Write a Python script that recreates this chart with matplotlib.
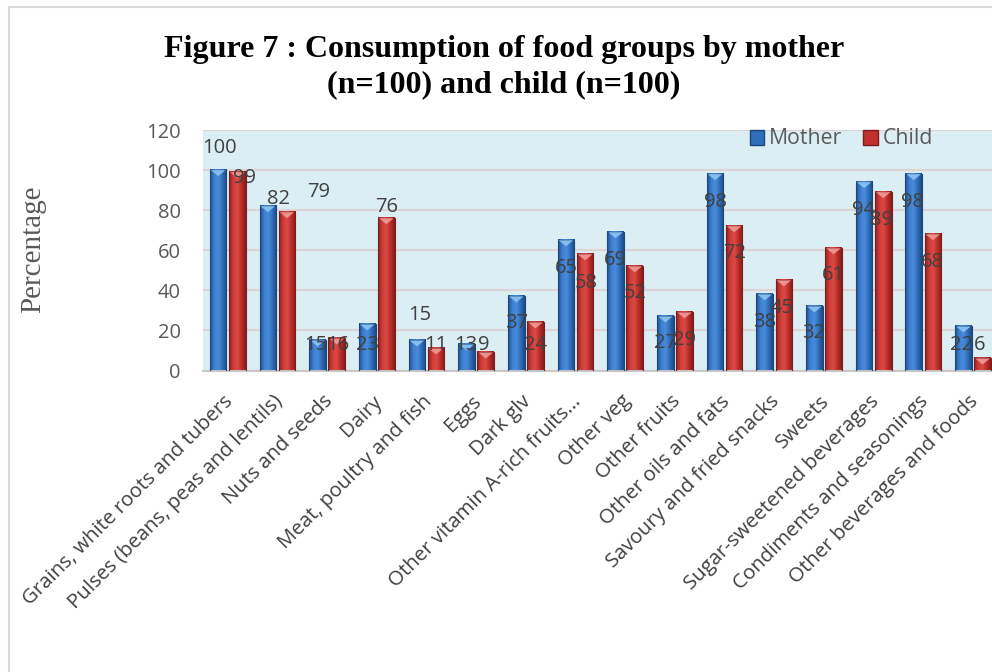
import matplotlib.pyplot as plt
import numpy as np
from matplotlib.colors import LinearSegmentedColormap
from matplotlib.patches import Rectangle, Polygon, Patch
from matplotlib.lines import Line2D

# Food groups and percentage consuming each group
groups = ["Grains, white roots and tubers", "Pulses (beans, peas and lentils)",
          "Nuts and seeds", "Dairy", "Meat, poultry and fish", "Eggs", "Dark glv",
          "Other vitamin A-rich fruits...", "Other veg", "Other fruits",
          "Other oils and fats", "Savoury and fried snacks", "Sweets",
          "Sugar-sweetened beverages", "Condiments and seasonings",
          "Other beverages and foods"]
mother = [100, 82, 15, 23, 15, 13, 37, 65, 69, 27, 98, 38, 32, 94, 98, 22]
child = [99, 79, 16, 76, 11, 9, 24, 58, 52, 29, 72, 45, 61, 89, 68, 6]

# where each value label sits: (x shift from bar centre, height)
mother_lbl = [(0.03, 111), (0.21, 85.6), (-0.03, 12.7), (0, 12.7), (0.05, 27.7),
              (-0.01, 12.7), (0, 23.7), (0, 51.1), (0, 55.1), (0, 13.7),
              (0, 84.1), (0, 24.2), (-0.02, 18.7), (-0.02, 80.1), (-0.02, 84.1),
              (-0.04, 12.7)]
child_lbl = [(0.15, 96.1), (0.64, 89.1), (0.02, 12.7), (0, 81.6), (0, 12.7),
             (-0.03, 12.7), (0, 12.7), (0.02, 43.7), (0, 38.7), (0, 15.2),
             (0, 58.6), (-0.03, 31.2), (0, 47.7), (-0.03, 75.1), (-0.02, 54.1),
             (-0.06, 12.7)]

BLUE = "#2f6db6"
RED = "#c0302d"
blue_cmap = LinearSegmentedColormap.from_list(
    "b", ["#1f4f8f", "#3d80d2", "#4a8cdc", "#2f6db6", "#1d4a86"])
red_cmap = LinearSegmentedColormap.from_list(
    "r", ["#8f1f1d", "#d03d39", "#dc4a45", "#b82c29", "#861d1b"])

plt.rcParams["font.family"] = ["Open Sans", "DejaVu Sans"]

fig = plt.figure(figsize=(9.92, 6.72), dpi=100)
ax = fig.add_axes([203 / 992, 1 - 370.5 / 672, 795 / 992, 240.5 / 672])
ax.set_facecolor("#dbeef3")

x = np.arange(len(groups))
w = 0.335
shade = np.linspace(0, 1, 64).reshape(1, -1)


def draw_bar(xc, h, cmap, tip, edge):
    x0, x1 = xc - w / 2, xc + w / 2
    ax.imshow(shade, cmap=cmap, extent=(x0, x1, 0, h), aspect="auto",
              origin="lower", zorder=2, interpolation="bicubic")
    ax.add_patch(Rectangle((x0, 0), w, h, fill=False, edgecolor=edge,
                           linewidth=0.8, zorder=3))
    ax.add_patch(Polygon([(x0 + 0.02, h), (x1 - 0.02, h), (xc, h - 3)],
                         closed=True, facecolor=tip, edgecolor="none",
                         alpha=0.9, zorder=3))


for i in x:
    draw_bar(i - 0.195, mother[i], blue_cmap, "#8cc4f2", "#1d467c")
    draw_bar(i + 0.19, child[i], red_cmap, "#f29a96", "#7d1c1a")

# value labels
for i in x:
    dx, y = mother_lbl[i]
    ax.text(i - 0.195 + dx, y, str(mother[i]), ha="center", va="center",
            fontsize=14.5, color="#404040", zorder=5)
    dx, y = child_lbl[i]
    ax.text(i + 0.19 + dx, y, str(child[i]), ha="center", va="center",
            fontsize=14.5, color="#404040", zorder=5)

ax.set_xlim(-0.5, len(groups) - 0.5)
ax.set_ylim(0, 120)
ax.set_yticks(range(0, 121, 20))
ax.yaxis.grid(True, color="#dcd4d4", linewidth=1.6, zorder=1)
ax.set_axisbelow(True)
for s in ["top", "right", "left"]:
    ax.spines[s].set_visible(False)
ax.spines["bottom"].set_color("#c8c8c8")
ax.spines["bottom"].set_linewidth(1.5)
ax.tick_params(axis="y", length=0, pad=16, labelsize=14.5, labelcolor="#595959")
ax.tick_params(axis="x", length=0, pad=15)
ax.set_xticks(x - 0.1)
ax.set_xticklabels(groups, rotation=45, ha="right", va="top",
                   rotation_mode="anchor", fontsize=14.7, color="#404040")

fig.text(33 / 992, 1 - 249 / 672, "Percentage", rotation=90, ha="center",
         va="center", family="Liberation Serif", fontsize=21, color="#595959")

fig.text(0.508, 1 - 67 / 672,
         "Figure 7 : Consumption of food groups by mother\n(n=100) and child (n=100)",
         ha="center", va="center", family="Liberation Serif", weight="bold",
         fontsize=23, linespacing=1.26)

handles = [Patch(facecolor=BLUE, edgecolor="#1d467c", label="Mother"),
           Patch(facecolor=RED, edgecolor="#7d1c1a", label="Child")]
fig.legend(handles=handles, ncol=2, frameon=False, loc="center left",
           bbox_to_anchor=(741 / 992, 1 - 139 / 672), fontsize=15.3,
           labelcolor="#595959", handlelength=0.7, handleheight=0.7,
           handletextpad=0.2, columnspacing=1.0, borderaxespad=0)

# thin border round the chart area
fig.add_artist(Line2D([8.5 / 992, 8.5 / 992], [0, 1 - 7 / 672],
                      color="#d9d9d9", linewidth=1.5))
fig.add_artist(Line2D([8.5 / 992, 1], [1 - 7 / 672, 1 - 7 / 672],
                      color="#d9d9d9", linewidth=1.5))

fig.savefig("out.png", dpi=100)
